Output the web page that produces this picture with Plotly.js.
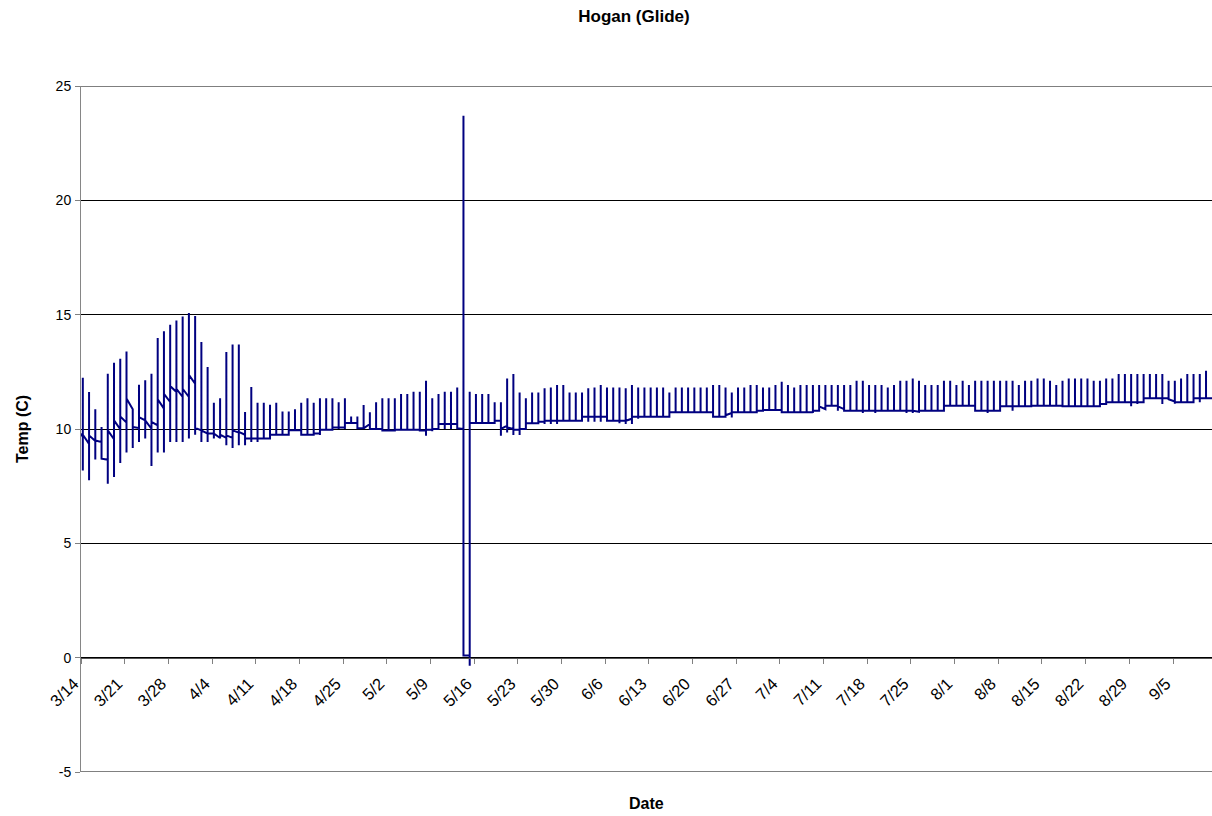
<!DOCTYPE html>
<html>
<head>
<meta charset="utf-8">
<script src="https://cdn.plot.ly/plotly-3.0.1.min.js"></script>
<style>
  html, body { margin: 0; padding: 0; background: #ffffff; }
  #chart { width: 1212px; height: 816px; }
</style>
</head>
<body>
<div id="chart"></div>
<script>
// ---- Data (one entry per day, starting 3/14) ----
const firstDay = '2007-03-14';
const spikeHour = 7;            // daily spike happens early each day
const leadInStart = 9.8;        // value at 3/14 00:00
const leadInEnd = 9.65;         // value just before the first spike

// daily spike maximum
const dailyHigh = [
  12.24, 11.62, 10.86, 10.09, 12.42, 12.9, 13.07, 13.39, 10.86, 11.94,
  12.13, 12.42, 13.98, 14.28, 14.56, 14.75, 14.92, 15.07, 14.94, 13.8,
  12.71, 11.15, 11.35, 13.37, 13.69, 13.69, 10.74, 11.84, 11.15, 11.15,
  11.06, 11.15, 10.77, 10.77, 10.86, 11.15, 11.35, 11.15, 11.34, 11.34,
  11.34, 11.17, 11.34, 10.55, 10.55, 11.05, 10.73, 11.17, 11.34, 11.34,
  11.34, 11.53, 11.53, 11.63, 11.63, 12.11, 11.34, 11.53, 11.63, 11.63,
  11.82, 23.7, 11.63, 11.53, 11.53, 11.53, 11.17, 11.17, 12.21, 12.4,
  11.6, 11.34, 11.6, 11.6, 11.78, 11.82, 11.92, 11.92, 11.6, 11.6,
  11.6, 11.78, 11.82, 11.92, 11.82, 11.82, 11.82, 11.78, 11.92, 11.82,
  11.82, 11.82, 11.82, 11.82, 11.6, 11.82, 11.82, 11.82, 11.82, 11.82,
  11.82, 11.92, 11.92, 11.82, 11.6, 11.82, 11.82, 11.92, 11.92, 11.82,
  11.82, 11.92, 12.07, 11.92, 11.82, 11.92, 11.92, 11.92, 11.92, 11.92,
  11.92, 11.92, 11.92, 11.92, 12.11, 12.11, 11.92, 11.92, 11.92, 11.82,
  11.92, 12.11, 12.11, 12.21, 12.11, 11.92, 11.92, 11.92, 12.11, 12.11,
  11.92, 12.11, 11.92, 12.11, 12.11, 12.11, 12.11, 12.11, 12.11, 12.11,
  11.92, 12.11, 12.11, 12.21, 12.21, 12.11, 11.92, 12.11, 12.21, 12.21,
  12.21, 12.21, 12.11, 12.11, 12.21, 12.21, 12.4, 12.4, 12.4, 12.4,
  12.4, 12.4, 12.4, 12.4, 12.11, 12.11, 12.21, 12.4, 12.4, 12.4, 12.55
];

// daily spike minimum
const dailyLow = [
  8.19, 7.76, 8.67, 8.67, 7.61, 7.9, 8.51, 8.97, 9.17, 9.43,
  9.58, 8.38, 8.97, 8.97, 9.43, 9.43, 9.43, 9.58, 9.75, 9.43,
  9.43, 9.58, 9.58, 9.29, 9.17, 9.29, 9.29, 9.43, 9.43, 9.58,
  9.58, 9.75, 9.75, 9.75, 9.94, 9.75, 9.75, 9.75, 9.74, 9.97,
  9.97, 10.0, 10.0, 10.26, 10.0, 10.0, 10.0, 10.0, 9.93, 9.93,
  9.93, 9.93, 9.93, 9.93, 9.93, 9.71, 9.9, 10.0, 10.0, 10.0,
  10.0, 1.6, -0.35, 10.26, 10.26, 10.26, 10.26, 9.71, 9.85, 9.74,
  9.74, 10.0, 10.25, 10.25, 10.22, 10.22, 10.22, 10.32, 10.32, 10.32,
  10.32, 10.32, 10.32, 10.32, 10.32, 10.36, 10.25, 10.22, 10.22, 10.45,
  10.54, 10.54, 10.54, 10.54, 10.54, 10.73, 10.73, 10.73, 10.73, 10.73,
  10.73, 10.54, 10.54, 10.54, 10.5, 10.73, 10.73, 10.73, 10.73, 10.8,
  10.83, 10.83, 10.73, 10.73, 10.73, 10.7, 10.73, 10.7, 10.8, 10.87,
  11.02, 10.8, 10.8, 10.8, 10.8, 10.7, 10.8, 10.7, 10.8, 10.8,
  10.8, 10.8, 10.7, 10.7, 10.75, 10.8, 10.8, 10.8, 10.8, 11.02,
  11.02, 11.02, 11.02, 10.8, 10.8, 10.7, 10.8, 10.8, 10.99, 10.8,
  10.99, 10.99, 10.99, 11.02, 11.02, 11.02, 11.02, 10.99, 10.99, 10.99,
  10.99, 10.99, 10.99, 10.99, 11.09, 11.17, 11.17, 11.17, 11.0, 11.09,
  11.17, 11.34, 11.34, 11.09, 11.34, 11.1, 11.17, 11.17, 11.17, 11.17, 11.34
];

// level right after the spike
const dayStart = [
  9.75, 9.72, 9.5, 8.7, 9.94, 10.38, 10.55, 11.33, 10.09, 10.52,
  10.38, 10.31, 11.3, 11.54, 11.88, 11.76, 11.76, 12.37, 10.05, 9.94,
  9.8, 9.8, 9.75, 9.72, 9.94, 9.87, 9.58, 9.58, 9.58, 9.58,
  9.75, 9.75, 9.75, 9.94, 9.94, 9.75, 9.75, 9.8, 9.97, 9.97,
  10.07, 10.07, 10.26, 10.26, 10.03, 10.03, 10.0, 10.0, 9.93, 9.93,
  9.97, 9.97, 9.97, 9.97, 9.93, 9.97, 10.0, 10.22, 10.22, 10.22,
  10.03, 0.1, 10.26, 10.26, 10.26, 10.26, 10.36, 10.0, 10.07, 9.97,
  10.0, 10.25, 10.25, 10.32, 10.36, 10.36, 10.36, 10.36, 10.36, 10.36,
  10.54, 10.54, 10.54, 10.54, 10.36, 10.36, 10.36, 10.36, 10.54, 10.54,
  10.54, 10.54, 10.54, 10.54, 10.73, 10.73, 10.73, 10.73, 10.73, 10.73,
  10.73, 10.54, 10.54, 10.6, 10.73, 10.73, 10.73, 10.73, 10.8, 10.83,
  10.83, 10.83, 10.73, 10.73, 10.73, 10.73, 10.73, 10.8, 10.99, 11.02,
  11.02, 10.99, 10.8, 10.8, 10.8, 10.8, 10.8, 10.8, 10.8, 10.8,
  10.8, 10.8, 10.8, 10.8, 10.8, 10.8, 10.8, 10.8, 11.02, 11.02,
  11.02, 11.02, 11.02, 10.8, 10.8, 10.8, 10.8, 10.99, 10.99, 10.99,
  10.99, 10.99, 11.02, 11.02, 11.02, 11.02, 11.02, 10.99, 10.99, 10.99,
  10.99, 10.99, 10.99, 11.09, 11.17, 11.17, 11.17, 11.17, 11.17, 11.17,
  11.34, 11.34, 11.34, 11.34, 11.3, 11.17, 11.17, 11.17, 11.34, 11.34, 11.34
];

// level just before the next day's spike
const dayEnd = [
  9.35, 9.48, 9.43, 8.66, 9.55, 9.99, 10.28, 10.86, 10.04, 10.38,
  10.01, 10.16, 10.89, 11.18, 11.62, 11.4, 11.4, 11.98, 9.94, 9.8,
  9.8, 9.61, 9.61, 9.61, 9.84, 9.75, 9.58, 9.58, 9.58, 9.58,
  9.75, 9.75, 9.75, 9.94, 9.94, 9.75, 9.75, 9.8, 9.97, 9.97,
  10.07, 10.07, 10.26, 10.26, 10.03, 10.22, 10.0, 10.0, 9.93, 9.93,
  9.97, 9.97, 9.97, 9.97, 9.93, 9.97, 10.0, 10.22, 10.22, 10.22,
  10.0, 0.1, 10.26, 10.26, 10.26, 10.26, 10.36, 10.15, 10.0, 9.97,
  10.0, 10.25, 10.25, 10.32, 10.36, 10.36, 10.36, 10.36, 10.36, 10.36,
  10.54, 10.54, 10.54, 10.54, 10.36, 10.36, 10.36, 10.45, 10.54, 10.54,
  10.54, 10.54, 10.54, 10.54, 10.73, 10.73, 10.73, 10.73, 10.73, 10.73,
  10.73, 10.54, 10.54, 10.7, 10.73, 10.73, 10.73, 10.73, 10.8, 10.83,
  10.83, 10.83, 10.73, 10.73, 10.73, 10.73, 10.73, 10.8, 10.87, 11.02,
  11.02, 10.87, 10.8, 10.8, 10.8, 10.8, 10.8, 10.8, 10.8, 10.8,
  10.8, 10.8, 10.8, 10.75, 10.8, 10.8, 10.8, 10.8, 11.02, 11.02,
  11.02, 11.02, 11.02, 10.8, 10.8, 10.8, 10.8, 10.99, 10.99, 10.99,
  10.99, 10.99, 11.02, 11.02, 11.02, 11.02, 11.02, 10.99, 10.99, 10.99,
  10.99, 10.99, 10.99, 11.09, 11.17, 11.17, 11.17, 11.17, 11.17, 11.17,
  11.34, 11.34, 11.34, 11.34, 11.2, 11.17, 11.17, 11.17, 11.34, 11.34, 11.34
];

// x-axis tick labels (weekly)
const tickLabels = ['3/14','3/21','3/28','4/4','4/11','4/18','4/25','5/2','5/9','5/16',
  '5/23','5/30','6/6','6/13','6/20','6/27','7/4','7/11','7/18','7/25','8/1','8/8',
  '8/15','8/22','8/29','9/5'];
const yTicks = [-5, 0, 5, 10, 15, 20, 25];
const yTickLabels = ['-5', '0', '5', '10', '15', '20', '25'];

// ---- build the trace from the arrays ----
const pad = n => (n < 10 ? '0' : '') + n;
const baseMs = Date.UTC(2007, 2, 14);
const HOUR = 3600000, DAY = 24 * HOUR;
function fmt(ms) {
  const d = new Date(ms);
  return d.getUTCFullYear() + '-' + pad(d.getUTCMonth() + 1) + '-' + pad(d.getUTCDate()) +
    ' ' + pad(d.getUTCHours()) + ':' + pad(d.getUTCMinutes());
}
const xs = [], ys = [];
xs.push(fmt(baseMs)); ys.push(leadInStart);
for (let d = 0; d < dailyHigh.length; d++) {
  const t = fmt(baseMs + d * DAY + spikeHour * HOUR);
  xs.push(t); ys.push(d === 0 ? leadInEnd : dayEnd[d - 1]);
  xs.push(t); ys.push(dailyLow[d]);
  xs.push(t); ys.push(dailyHigh[d]);
  xs.push(t); ys.push(dayStart[d]);
}
const last = dailyHigh.length;
xs.push(fmt(baseMs + last * DAY + spikeHour * HOUR)); ys.push(dayEnd[last - 1]);

const tickVals = tickLabels.map(s => {
  const [m, d] = s.split('/').map(Number);
  return '2007-' + pad(m) + '-' + pad(d);
});

const FONT = 'Arial, "Liberation Sans", sans-serif';
const trace = {
  x: xs, y: ys, type: 'scatter', mode: 'lines',
  line: { color: '#000080', width: 2 },
  hoverinfo: 'skip'
};

// gridlines at the two range edges (Plotly omits them)
const edgeGrid = [yTicks[0], yTicks[yTicks.length - 1]].map(v => ({
  type: 'line', xref: 'paper', yref: 'y', x0: 0, x1: 1, y0: v, y1: v,
  line: { color: '#000000', width: 1 }, layer: 'below'
}));

const layout = {
  width: 1212, height: 816,
  margin: { l: 81, r: 0, t: 86, b: 44 },
  paper_bgcolor: '#ffffff', plot_bgcolor: '#ffffff',
  showlegend: false,
  font: { family: FONT, color: '#000000' },
  title: {
    text: 'Hogan (Glide)',
    font: { family: FONT, size: 17, weight: 'bold', color: '#000000' },
    xref: 'container', yref: 'container',
    x: 634 / 1212, xanchor: 'center',
    y: 1 - 16 / 816, yanchor: 'middle'
  },
  xaxis: {
    type: 'date',
    range: ['2007-03-14 00:00', '2007-09-11 06:00'],
    anchor: 'free', position: 1 / 6,
    tickvals: tickVals, ticktext: tickLabels,
    tickangle: -45,
    tickfont: { family: FONT, size: 16.5, color: '#000000' },
    ticklabelshift: -7, ticklabelstandoff: 4,
    ticks: 'outside', ticklen: 5, tickcolor: '#808080', tickwidth: 1,
    showline: true, linecolor: '#555555', linewidth: 1,
    showgrid: false, zeroline: false
  },
  yaxis: {
    range: [-5, 25],
    tickvals: yTicks, ticktext: yTickLabels,
    tickfont: { family: FONT, size: 14, color: '#000000' },
    ticks: 'outside', ticklen: 5, tickcolor: '#808080', tickwidth: 1,
    ticklabelstandoff: 1,
    showline: true, linecolor: '#868686', linewidth: 1,
    showgrid: true, gridcolor: '#000000', gridwidth: 1,
    zeroline: false
  },
  shapes: edgeGrid,
  annotations: [
    {
      text: 'Date', showarrow: false,
      xref: 'paper', yref: 'paper', x: 0.5, y: (772 - 803) / 686,
      xanchor: 'center', yanchor: 'middle',
      font: { family: FONT, size: 16, weight: 'bold', color: '#000000' }
    },
    {
      text: 'Temp (C)', showarrow: false, textangle: -90,
      xref: 'paper', yref: 'paper', x: (22 - 81) / 1131, y: 0.5,
      xanchor: 'center', yanchor: 'middle',
      font: { family: FONT, size: 16, weight: 'bold', color: '#000000' }
    }
  ]
};

Plotly.newPlot('chart', [trace], layout, { displayModeBar: false, staticPlot: true });
</script>
</body>
</html>
